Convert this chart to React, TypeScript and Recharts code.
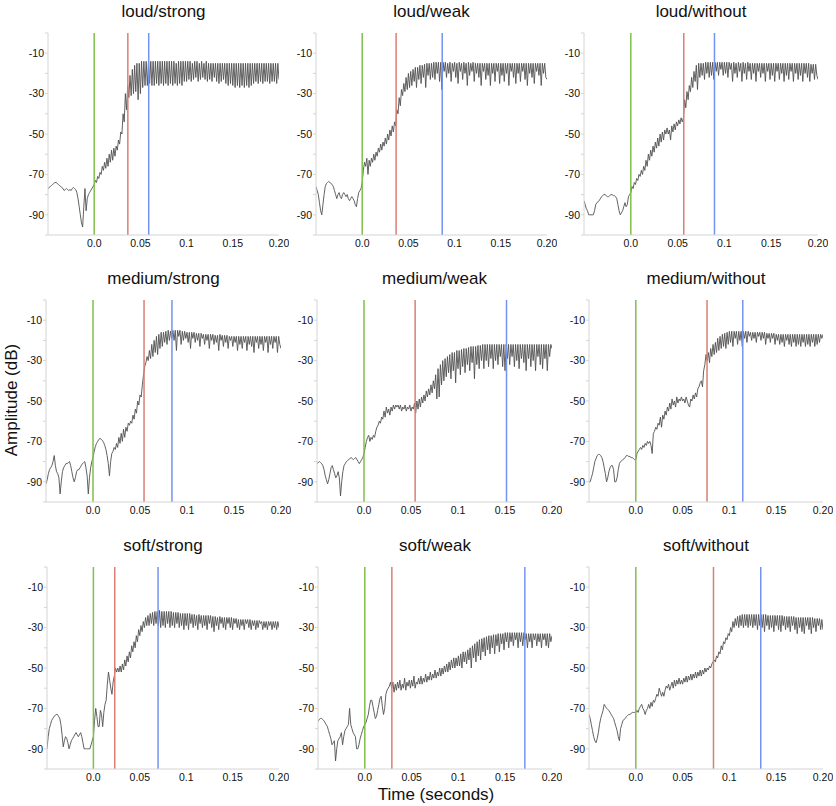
import { CartesianGrid, Line, LineChart, ReferenceLine, XAxis, YAxis } from 'recharts';

// samples every 1.25 ms from -0.05 s to 0.20 s (201 values per panel)
const START = -0.05;
const STEP = 0.00125;

const loudStrong = [
  -77, -76.5, -76, -75.5, -75, -74.5, -74, -74, -74.5, -75, -75.5, -76, -76.5, -77, -78, -77.5, -77, -77.5, -78, -77.5,
  -78, -77, -76.5, -77, -77.5, -79, -82, -86, -90, -94, -96, -86, -77, -88, -82, -80, -79, -78, -77, -76,
  -75, -73, -74, -71, -72, -69, -70, -66, -68, -64, -67, -62, -66, -60, -64, -58, -63, -57, -61, -56,
  -58, -53, -55, -49, -50, -40, -44, -30, -38, -26, -32, -21, -31, -18, -30, -16, -29, -15, -33, -15,
  -30, -14, -27, -14, -26, -14, -26, -14, -25, -14, -26, -14, -26, -14, -25, -14, -26, -14, -25, -14,
  -26, -14, -25, -14, -26, -14, -25, -14, -26, -14, -25, -15, -26, -14, -25, -14, -26, -14, -24, -14,
  -24, -14, -23, -14, -24, -15, -23, -14, -22, -14, -24, -15, -23, -14, -22, -15, -23, -14, -24, -15,
  -23, -15, -24, -15, -22, -15, -24, -15, -25, -15, -24, -15, -23, -15, -25, -15, -26, -15, -25, -15,
  -26, -15, -27, -15, -26, -15, -27, -15, -26, -15, -27, -15, -26, -15, -27, -15, -26, -15, -25, -15,
  -24, -15, -25, -15, -24, -15, -25, -15, -24, -15, -24, -15, -25, -15, -24, -15, -24, -15, -25, -15,
  -23,
];

const loudWeak = [
  -76, -78, -80, -84, -88, -90, -85, -80, -76, -74.5, -74, -73.5, -74, -74.5, -75, -76, -78, -80, -82, -80,
  -79, -81, -82, -80, -79, -80, -81, -80, -82, -83, -82, -81, -82, -83, -85, -86, -82, -79, -78, -77,
  -74, -68, -64, -66, -62, -70, -63, -66, -62, -64, -60, -63, -59, -61, -57, -59, -55, -58, -54, -56,
  -52, -55, -50, -53, -48, -51, -46, -49, -44, -46, -38, -40, -32, -36, -28, -31, -25, -29, -22, -28,
  -20, -27, -19, -26, -18, -24, -17, -27, -17, -23, -16, -25, -16, -22, -15.5, -27, -15, -21, -15, -23,
  -15, -22, -14.5, -23, -14.5, -20, -14.5, -24, -14.5, -28, -14.5, -19, -14.5, -22, -15, -20, -14.5, -24, -15, -19,
  -14.5, -22, -15, -25, -14.5, -19, -15, -23, -14.5, -20, -15, -26, -14.5, -21, -15, -19, -14.5, -24, -15, -20,
  -15, -22, -15, -26, -15, -19, -15, -23, -15, -21, -15, -26, -15, -20, -15, -24, -15, -19, -15, -25,
  -15, -21, -15, -24, -15, -20, -15, -26, -15, -19, -15, -22, -15, -25, -15, -20, -15, -24, -15, -19,
  -15, -23, -15, -26, -15, -20, -15, -22, -15, -25, -15, -19, -15, -21, -15, -26, -15, -20, -15, -22,
  -23,
];

const loudWithout = [
  -83, -85, -87, -88, -90, -90, -90, -90, -90, -88, -85, -84, -83.5, -83, -82, -81, -80.5, -80, -80, -80.5,
  -81, -81, -80.5, -80, -80, -80.5, -80.5, -81, -82, -85, -88, -90, -89, -88, -86, -84, -86, -85, -81, -80,
  -79, -76, -77, -74, -75, -72, -73, -70, -71, -68, -70, -66, -68, -63, -66, -60, -63, -58, -61, -56,
  -59, -54, -57, -52, -56, -50, -54, -49, -53, -48, -50, -47, -50, -48, -53, -46, -49, -45, -48, -44,
  -46, -43, -45, -42, -44, -42, -33, -37, -29, -33, -26, -29, -22, -27, -19, -24, -16, -28, -15, -22,
  -15, -21, -15, -23, -14.5, -20, -14.5, -22, -14.5, -21, -14.5, -23, -14.5, -19, -14.5, -21, -14.5, -18, -14.5, -21,
  -14.5, -20, -14.5, -22, -14.5, -18, -15, -24, -14.5, -20, -15, -22, -14.5, -19, -15, -24, -14.5, -20, -15, -23,
  -14.5, -19, -15, -23, -15, -20, -15, -24, -15, -19, -15, -22, -15, -20, -15, -24, -15, -19, -15, -23,
  -15, -21, -15, -24, -15, -19, -15, -23, -15, -20, -15, -24, -15, -21, -15, -23, -15, -19, -15, -24,
  -15, -20, -15, -23, -15, -21, -15, -24, -15, -20, -15, -22, -15, -24, -15.5, -20, -15.5, -23, -15.5, -21,
  -23,
];

const mediumStrong = [
  -91, -89, -86, -84, -83, -82, -80, -77, -82, -85, -86, -88, -96, -90, -85, -83, -82, -81, -81, -80.5,
  -80, -82, -85, -88, -90, -88, -85, -84, -84, -83, -82, -81, -80.5, -80, -83, -87, -96, -88, -83, -80,
  -78, -75, -72.5, -71, -70, -69, -68.5, -69, -69.5, -70.5, -72, -74, -77, -81, -87, -80, -76, -75, -73, -74,
  -71, -73, -68, -71, -66, -70, -64, -68, -63, -65, -61, -62, -60, -61, -57, -59, -54, -56, -50, -52,
  -47, -48, -42, -37, -33, -31, -28, -30, -25, -29, -22, -28, -20, -26, -18, -27, -17, -24, -16, -23,
  -16, -21, -15.5, -22, -15, -20, -15.5, -19, -15, -20, -15, -25, -15, -18, -15, -22, -15.5, -20, -15.5, -19,
  -16, -21, -16, -24, -16, -19, -16, -21, -16.5, -20, -16.5, -23, -16.5, -19, -17, -22, -17, -20, -17, -24,
  -17, -20, -17, -22, -17.5, -21, -17.5, -25, -17, -20, -17.5, -23, -17.5, -21, -17.5, -24, -18, -20, -18, -23,
  -18, -21, -18, -25, -18, -22, -18, -24, -18, -21, -18, -25, -18, -22, -18, -23, -18, -26, -18, -21,
  -18, -24, -18, -22, -18, -25, -18, -21, -18, -26, -18, -22, -18, -24, -18, -21, -18, -26, -18, -22,
  -24,
];

const mediumWeak = [
  -81, -80.5, -80, -80.5, -81, -82, -84, -87, -89, -91, -89, -86, -83, -82, -84, -86, -88, -87, -85, -88,
  -97, -90, -85, -82, -81, -80, -79.5, -79, -78.5, -78, -78.5, -79, -78.5, -78, -79, -80, -81, -80, -79, -78,
  -76, -73, -70, -68, -67, -70, -68, -69, -67, -68, -65, -63, -62, -60, -61, -58, -59, -55, -58, -53,
  -56, -54, -57, -53, -55, -52, -54, -52, -53, -52, -54, -52, -55, -53, -54, -52, -55, -53, -54, -52,
  -55, -53, -54, -51, -56, -50, -54, -49, -53, -48, -51, -47, -50, -45, -48, -44, -47, -42, -46, -40,
  -44, -37, -49, -34, -48, -32, -42, -30, -40, -29, -38, -28, -36, -27, -39, -26, -35, -26, -41, -25,
  -34, -25, -37, -24.5, -33, -24, -36, -24, -32, -23.5, -35, -23, -31, -23, -39, -23, -32, -22.5, -34, -22.5,
  -30, -22, -34, -22, -30, -22, -33, -22, -29, -22, -34, -22, -30, -22, -32, -22, -28, -22, -33, -22,
  -35, -22, -29, -22, -32, -22, -28, -22, -33, -22, -30, -22, -34, -22, -29, -22, -31, -22, -35, -22,
  -29, -22, -33, -22, -30, -22, -35, -22, -28, -22, -32, -22, -34, -22, -29, -22, -35, -22, -28, -22,
  -24,
];

const mediumWithout = [
  -90, -90, -88, -86, -83, -80, -78.5, -77, -76.5, -76.5, -77, -78, -80, -83, -86, -90, -88, -85, -83, -82,
  -82, -84, -90, -90, -88, -84, -81, -80, -79.5, -79, -78.5, -78, -77, -77, -77.5, -77.5, -78, -78, -78.5, -79,
  -79, -76, -75, -74, -73, -74, -72, -73, -71, -72, -70, -71, -70, -72, -76, -66, -65, -63, -64, -61,
  -62, -58, -63, -57, -59, -55, -57, -53, -55, -51, -54, -49, -52, -50, -53, -48, -51, -49, -50, -48,
  -50, -49, -51, -48, -50, -52, -53, -49, -50, -47, -49, -46, -48, -44, -43, -41, -40, -43, -35, -32,
  -27, -30, -26, -31, -24, -28, -22, -27, -21, -26, -19, -25, -18, -24, -17, -23, -16.5, -24, -16, -22,
  -15.5, -21, -15.5, -23, -15.5, -19, -15.5, -22, -15.5, -20, -15.5, -23, -15.5, -19, -15.5, -21, -15.5, -18, -16, -20,
  -16, -19, -16, -21, -16, -18, -16, -20, -16, -19, -16, -22, -16.5, -19, -16.5, -21, -16.5, -19, -16.5, -22,
  -17, -20, -17, -22, -17, -21, -17, -23, -17, -20, -17, -22, -17, -23, -17, -21, -17, -23, -17, -22,
  -17, -23, -17, -21, -17, -23, -17, -22, -17, -23, -17, -21, -17, -23, -17, -22, -17, -21, -17, -19,
  -17,
];

const softStrong = [
  -90, -84, -80, -78, -76, -75, -74, -73.5, -73, -73, -74, -75, -78, -83, -89, -86, -84, -85, -87, -90,
  -88, -86, -85, -84, -83, -82, -83, -84, -83, -82, -84, -87, -90, -90, -90, -90, -90, -90, -88, -86,
  -84, -76, -70, -74, -79, -79, -71, -73, -79, -72, -68, -66, -58, -52, -56, -60, -63, -57, -54, -50,
  -52, -50, -52, -49, -52, -48, -51, -46, -49, -44, -47, -42, -45, -39, -42, -37, -40, -34, -37, -31,
  -34, -29, -32, -27, -30, -25, -29, -24, -29, -23, -28, -22.5, -29, -22, -28, -22, -29, -21.5, -30, -22,
  -29, -22, -30, -22, -28, -22, -30, -22, -29, -22.5, -30, -22.5, -28, -22.5, -30, -23, -29, -23, -31, -23,
  -29, -23, -31, -23, -28, -23.5, -30, -23.5, -29, -24, -31, -23.5, -28, -24, -30, -24, -29, -24, -31, -24,
  -28, -24, -30, -24.5, -32, -24.5, -29, -25, -31, -24.5, -28, -25, -30, -25, -31, -25, -28, -25, -30, -25,
  -31, -25.5, -28, -25.5, -30, -26, -31, -26, -29, -26, -31, -26, -28, -26, -30, -26, -31, -26.5, -29, -26.5,
  -31, -26.5, -30, -26.5, -28, -27, -31, -27, -30, -27, -31, -27, -29, -27, -31, -27, -30, -27, -31, -27,
  -30,
];

const softWeak = [
  -76.5, -75.5, -75, -75, -75.5, -76, -77, -78, -79, -81, -83, -85, -88, -87, -86, -96, -90, -86, -85, -84,
  -82, -88, -84, -81, -80, -79, -78, -70, -78, -80, -82, -83, -84, -90, -90, -88, -85, -83, -81, -79,
  -78, -77, -75, -73, -69, -66, -66, -69, -72, -75, -74, -71, -68, -65, -64, -69, -73, -70, -63, -61,
  -60, -59, -57, -60, -57, -62, -58, -61, -57, -60, -56, -61, -58, -60, -55, -61, -57, -59, -56, -60,
  -56, -59, -54, -60, -57, -58, -55, -58, -54, -58, -55, -57, -53, -57, -54, -56, -52, -56, -53, -55,
  -51, -55, -52, -54, -50, -54, -50, -53, -49, -52, -48, -52, -47, -51, -46, -50, -45, -50, -45, -49,
  -44, -49, -43, -50, -42, -47, -42, -48, -41, -46, -40, -50, -39, -45, -38, -47, -37, -44, -36, -46,
  -35.5, -42, -35, -44, -34.5, -41, -34, -43, -34, -40, -33.5, -43, -33.5, -39, -33, -42, -33, -38, -33, -41,
  -32.5, -37, -32.5, -40, -32.5, -37, -32.5, -39, -32.5, -36, -32.5, -40, -32.5, -37, -32.5, -39, -32.5, -36, -33, -40,
  -33, -37, -33, -40, -33, -36, -33, -39, -33, -37, -33, -40, -33, -36, -33, -39, -33, -40, -33, -37,
  -34,
];

const softWithout = [
  -73, -75, -78, -81, -84, -86, -87, -85, -82, -78, -75, -73, -71, -68, -69, -70, -70.5, -71, -72, -73,
  -74, -75, -77, -79, -81, -84, -86, -80, -78, -76, -75.5, -75, -74, -73.5, -73, -73, -72.5, -72, -72, -72,
  -72, -71, -72, -70, -69, -68, -70, -71, -73, -71, -70, -68, -70, -67, -69, -66, -67, -65, -63, -64,
  -60, -62, -64, -62, -64, -61, -59, -60, -58, -61, -59, -57, -60, -56, -59, -56, -58, -55, -58, -56,
  -58, -55, -57, -54, -57, -54, -56, -53, -56, -53, -55, -52, -55, -52, -54, -51, -54, -51, -53, -50,
  -52, -50, -51, -49, -50, -48, -47, -46, -47, -44, -45, -42, -43, -39, -41, -37, -38, -35, -36, -33,
  -34, -30, -32, -27, -30, -25.5, -29, -24.5, -30, -24, -29, -23.5, -30, -23.5, -29, -23.5, -30, -23.5, -29, -23.5,
  -30, -23.5, -29, -23.5, -31, -23.5, -29, -23.5, -30, -23.5, -32, -23.5, -29, -24, -31, -24, -30, -24, -32, -24,
  -29, -24, -31, -24, -32, -24, -29, -24.5, -31, -24.5, -30, -24.5, -32, -24.5, -29, -24.5, -31, -25, -33, -25,
  -30, -25, -32, -25, -33, -25, -29, -25, -31, -25, -33, -25, -30, -25.5, -32, -25.5, -29, -25.5, -31, -26,
  -31,
];

const titles = [
  'loud/strong', 'loud/weak', 'loud/without',
  'medium/strong', 'medium/weak', 'medium/without',
  'soft/strong', 'soft/weak', 'soft/without',
];
const series = [loudStrong, loudWeak, loudWithout, mediumStrong, mediumWeak, mediumWithout, softStrong, softWeak, softWithout];
const greenMarks = [0, 0, 0, 0, 0, 0, 0, 0, 0];
const redMarks = [0.0364, 0.0367, 0.0566, 0.0543, 0.0544, 0.0761, 0.023, 0.0289, 0.083];
const blueMarks = [0.059, 0.0866, 0.0894, 0.084, 0.1516, 0.1143, 0.0697, 0.171, 0.1335];

const timeTicks = [-0.05, 0, 0.05, 0.1, 0.15, 0.2];
const timeLabels = ['', '0.0', '0.05', '0.1', '0.15', '0.20'];
const dbTicks = [0, -10, -20, -30, -40, -50, -60, -70, -80, -90, -100];

// plot area boxes: [left, right, top]
const boxes = [
  [48, 279, 33], [316, 547, 33], [584, 818, 33],
  [46, 281, 300], [317, 552, 300], [589, 823, 300],
  [47, 279, 567], [318, 552, 567], [589, 823, 567],
];
const PLOT_H = 202;
const Y_W = 40;
const FONT = '"Liberation Sans", Arial, Helvetica, sans-serif';
const tickStyle = { fontSize: 10.5, fill: '#111', fontFamily: FONT };

function Panel({ idx }: { idx: number }) {
  const [left, right, top] = boxes[idx];
  const plotW = right - left;
  const data = series[idx].map((v, i) => ({ t: START + i * STEP, v }));
  return (
    <>
      <div style={{ position: 'absolute', left, top: top - 31, width: plotW, textAlign: 'center', fontSize: 17, lineHeight: '20px', color: '#111' }}>
        {titles[idx]}
      </div>
      <div style={{ position: 'absolute', left: left - Y_W, top: top - 33 }}>
        <LineChart width={Y_W + plotW + 10} height={33 + PLOT_H + 30} data={data} margin={{ top: 33, right: 10, bottom: 0, left: 0 }}>
          <CartesianGrid horizontal={false} vertical={false} />
          <XAxis dataKey="t" type="number" domain={[-0.05, 0.2]} ticks={timeTicks} interval={0}
            tickFormatter={(v: number) => timeLabels[timeTicks.findIndex((x) => Math.abs(x - v) < 1e-9)] ?? ''}
            tickLine={false} tickSize={0} tickMargin={5} height={30} allowDataOverflow
            axisLine={{ stroke: '#d4d4d4' }} tick={tickStyle} />
          <YAxis type="number" domain={[-100, 0]} ticks={dbTicks} interval={0} width={Y_W}
            tickFormatter={(v: number) => (Math.abs(v) % 20 === 10 ? String(v) : '')}
            tickLine={{ stroke: '#d4d4d4' }} tickSize={3} tickMargin={1} allowDataOverflow
            axisLine={{ stroke: '#d4d4d4' }} tick={tickStyle} />
          <Line type="linear" dataKey="v" stroke="#505050" strokeWidth={0.9} dot={false} isAnimationActive={false} />
          <ReferenceLine x={greenMarks[idx]} stroke="#7fbf4a" strokeWidth={1.5} />
          <ReferenceLine x={redMarks[idx]} stroke="#d97f74" strokeWidth={1.5} />
          <ReferenceLine x={blueMarks[idx]} stroke="#7393f2" strokeWidth={1.5} />
        </LineChart>
      </div>
    </>
  );
}

export default function App() {
  return (
    <div style={{ position: 'absolute', left: 0, top: 0, width: 836, height: 806, background: '#fff', fontFamily: FONT }}>
      {titles.map((_, i) => <Panel key={i} idx={i} />)}
      <div style={{ position: 'absolute', left: 12 - 70, top: 400 - 10, width: 140, height: 20, lineHeight: '20px', textAlign: 'center', fontSize: 17, color: '#111', transform: 'rotate(-90deg)' }}>
        Amplitude (dB)
      </div>
      <div style={{ position: 'absolute', left: 436 - 80, top: 785, width: 160, lineHeight: '20px', textAlign: 'center', fontSize: 17, color: '#111' }}>
        Time (seconds)
      </div>
    </div>
  );
}
